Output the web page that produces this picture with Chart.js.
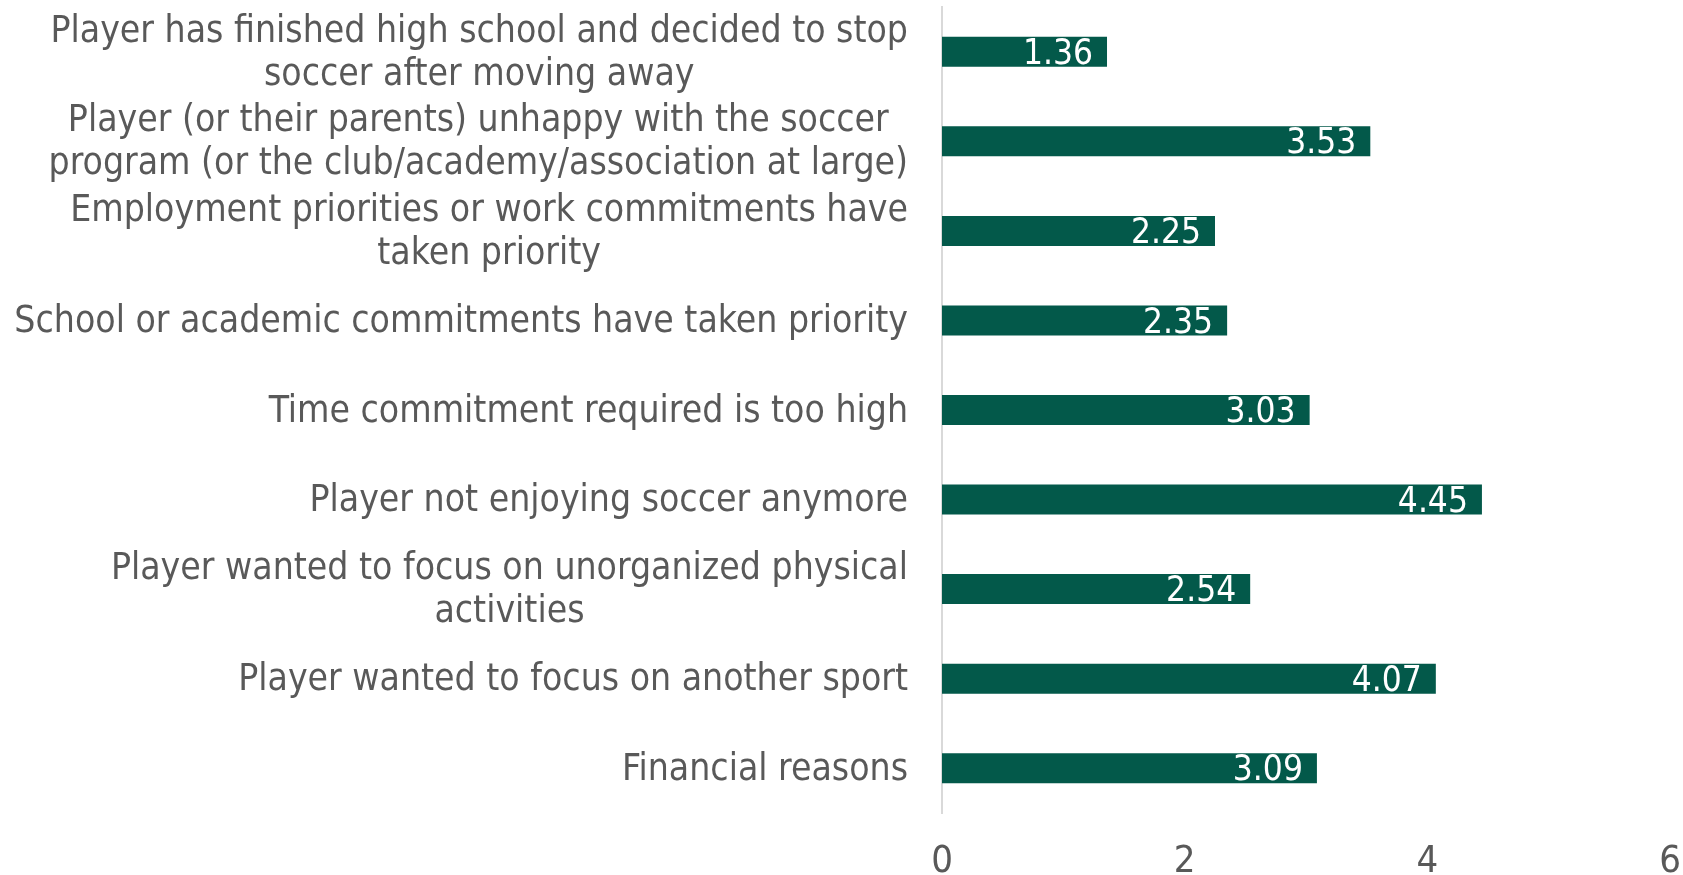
<!DOCTYPE html>
<html>
<head>
<meta charset="utf-8">
<script src="https://cdn.jsdelivr.net/npm/chart.js@4/dist/chart.umd.min.js"></script>
<style>
  html, body { margin: 0; padding: 0; background: #fff; }
  #wrap { width: 1683px; height: 875px; }
</style>
</head>
<body>
<div id="wrap"><canvas id="myChart"></canvas></div>
<script>
var reasons = [
    ["Player has finished high school and decided to stop", "soccer after moving away"],
    ["Player (or their parents) unhappy with the soccer", "program (or the club/academy/association at large)"],
    ["Employment priorities or work commitments have", "taken priority"],
    "School or academic commitments have taken priority",
    "Time commitment required is too high",
    "Player not enjoying soccer anymore",
    ["Player wanted to focus on unorganized physical", "activities"],
    "Player wanted to focus on another sport",
    "Financial reasons"
];
var scores = [1.36, 3.53, 2.25, 2.35, 3.03, 4.45, 2.54, 4.07, 3.09];
var xTicks = [0, 2, 4, 6];

var FONT = "'DejaVu Sans Condensed', 'Liberation Sans Narrow', sans-serif";
var GREY = "#595959";

// y labels: lines centred within each block, block right-aligned to the axis
var labelPlugin = {
    id: 'labelPlugin',
    afterDraw: function (chart) {
        var ctx = chart.ctx;
        var yScale = chart.scales.y;
        var right = yScale.right - 34;
        ctx.save();
        ctx.font = "37px " + FONT;
        ctx.fillStyle = GREY;
        ctx.textAlign = 'center';
        ctx.textBaseline = 'middle';
        var lh = 43;
        chart.data.labels.forEach(function (lbl, i) {
            var lines = Array.isArray(lbl) ? lbl : [lbl];
            var maxW = 0;
            lines.forEach(function (l) { maxW = Math.max(maxW, ctx.measureText(l).width); });
            var cx = right - maxW / 2;
            var cy = yScale.getPixelForValue(i) + 2;
            var start = cy - (lines.length - 1) * lh / 2;
            lines.forEach(function (l, k) { ctx.fillText(l, cx, start + k * lh); });
        });
        ctx.restore();
    }
};

// value labels inside the bar end
var valuePlugin = {
    id: 'valuePlugin',
    afterDatasetsDraw: function (chart) {
        var ctx = chart.ctx;
        var meta = chart.getDatasetMeta(0);
        ctx.save();
        ctx.font = "35px " + FONT;
        ctx.fillStyle = "#ffffff";
        ctx.textAlign = 'right';
        ctx.textBaseline = 'middle';
        meta.data.forEach(function (bar, i) {
            ctx.fillText(scores[i].toFixed(2), bar.x - 14, bar.y + 3);
        });
        ctx.restore();
    }
};

var chartdata = {
    labels: reasons,
    datasets: [
        {
            label: 'Score',
            backgroundColor: '#03594A',
            borderWidth: 0,
            categoryPercentage: 1,
            barPercentage: 0.335,
            data: scores
        }
    ]
};

var barGraph = new Chart(document.getElementById('myChart'), {
    type: 'bar',
    data: chartdata,
    options: {
        indexAxis: 'y',
        responsive: true,
        maintainAspectRatio: false,
        animation: false,
        layout: { padding: { top: 7, right: 13, left: 0, bottom: 0 } },
        plugins: {
            legend: { display: false },
            tooltip: { enabled: false }
        },
        scales: {
            x: {
                min: 0,
                max: 6,
                afterBuildTicks: function (scale) {
                    scale.ticks = xTicks.map(function (v) { return { value: v }; });
                },
                grid: { display: false },
                border: { display: false },
                ticks: {
                    color: GREY,
                    font: { family: FONT, size: 38 },
                    padding: 18
                },
                afterFit: function (scale) {
                    scale.height = 62;
                    scale.paddingLeft = 0;
                    scale.paddingRight = 0;
                }
            },
            y: {
                grid: { display: false },
                border: { display: true, color: '#d9d9d9', width: 2 },
                ticks: { display: false },
                afterFit: function (scale) { scale.width = 942; }
            }
        }
    },
    plugins: [labelPlugin, valuePlugin]
});
</script>
</body>
</html>
